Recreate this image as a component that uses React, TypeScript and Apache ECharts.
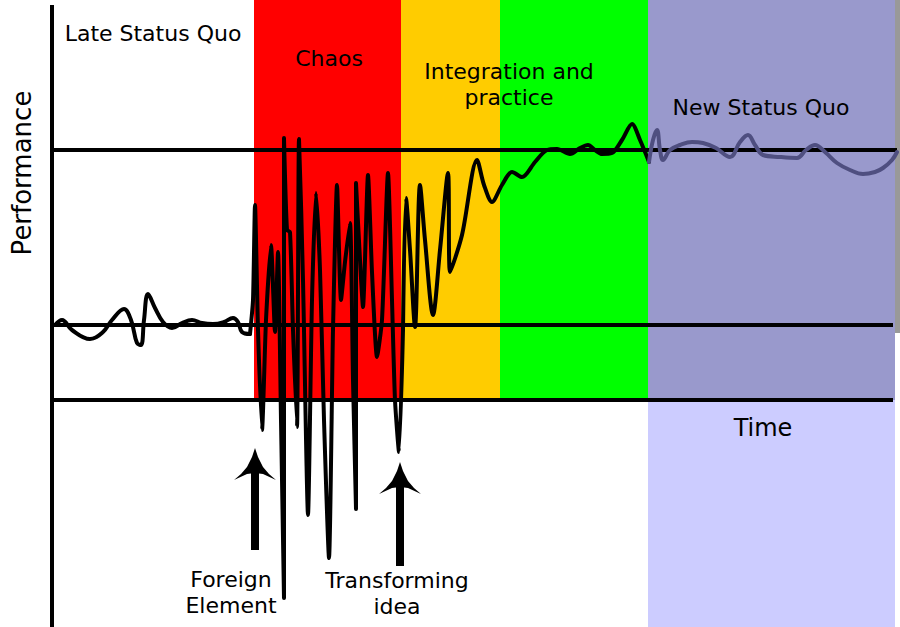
import React, { useEffect, useRef } from "react";
import * as echarts from "echarts";

// Time (x) and performance (y) values
const lateStatusQuo: number[][] = [
  [55, 302], [62, 307], [72, 297], [90, 288], [103, 295], [112, 307], [124, 318],
  [131, 307], [137, 284], [141, 282], [144, 307], [148, 333], [155, 319], [163, 305],
  [172, 299], [182, 304], [192, 307], [202, 304], [213, 303], [224, 305], [233, 309],
  [238, 305], [242, 295], [250, 293],
];

const chaos: number[][] = [
  [250, 293], [253, 327], [255, 422], [258, 297], [262, 197], [266, 307], [271, 382],
  [275, 295], [278, 375], [281, 207], [284, 29], [284, 489], [287, 397], [290, 395],
  [293, 297], [297, 200], [299, 488], [303, 347], [308, 112], [312, 327], [316, 434],
  [320, 357], [324, 207], [329, 69], [333, 297], [337, 442], [341, 327], [345, 365],
  [350, 404], [353, 247], [356, 118], [356, 444], [360, 367], [363, 320], [368, 452],
  [372, 355], [377, 270], [382, 307], [388, 454], [392, 327], [395, 227], [399, 175],
  [403, 297],
];

const integration: number[][] = [
  [403, 297], [406, 429], [410, 377], [415, 300], [420, 442], [425, 387], [433, 312],
  [440, 377], [448, 454], [450, 355], [462, 392], [477, 467], [484, 442], [492, 425],
  [502, 442], [512, 455], [522, 450], [535, 465], [547, 477], [557, 478], [570, 473],
  [580, 479], [588, 482], [595, 477], [602, 473], [612, 474], [622, 487], [632, 503],
  [640, 487], [649, 465],
];

const newStatusQuo: number[][] = [
  [649, 465], [653, 487], [657, 497], [660, 477], [663, 467], [670, 477], [680, 482],
  [692, 485], [703, 484], [716, 479], [730, 470], [740, 485], [748, 492], [755, 482],
  [763, 472], [780, 470], [797, 469], [806, 477], [815, 482], [825, 475], [837, 464],
  [850, 457], [863, 453], [875, 455], [883, 459], [892, 467], [897, 475],
];

// Phase boundaries on the time axis
const phaseNames = ["Chaos", "Integration", "Practice", "New Status Quo"];
const phaseStart = [254, 401, 500, 648];
const phaseEnd = [401, 500, 648, 895];

// Performance levels (new status quo, old status quo, floor)
const levels = [477, 302, 227];
const levelEnds = [897, 893, 893];

const phaseColors = ["#ff0000", "#ffcc00", "#00ff00", "#9999cc"];

export default function App() {
  const ref = useRef<HTMLDivElement>(null);

  useEffect(() => {
    if (!ref.current) return;
    const chart = echarts.init(ref.current, null, { renderer: "svg" });
    const font = "DejaVu Sans";

    const bandData: any[] = phaseNames.map((n, i) => [
      { name: n, xAxis: phaseStart[i], yAxis: levels[2], itemStyle: { color: phaseColors[i] } },
      { xAxis: phaseEnd[i], yAxis: 627 },
    ]);
    bandData.push([
      { name: "Time", xAxis: phaseStart[3], yAxis: 0, itemStyle: { color: "#ccccff" } },
      { xAxis: phaseEnd[3], yAxis: levels[2] },
    ]);
    bandData.push([
      { name: "edge", xAxis: 895, yAxis: 294, itemStyle: { color: "#999999" } },
      { xAxis: 900, yAxis: 627 },
    ]);

    const levelLines: any[] = levels.map((l, i) => [
      { coord: [52, l] },
      { coord: [levelEnds[i], l] },
    ]);
    levelLines.push([{ coord: [52, 0] }, { coord: [52, 622] }]);

    const curveStyle = { color: "#000", width: 4, cap: "round", join: "round" };

    const head = (tx: number, ty: number) => [
      [tx, ty], [tx + 3, ty + 9], [tx + 8, ty + 19], [tx + 14, ty + 26], [tx + 21, ty + 32],
      [tx + 8, ty + 26], [tx, ty + 25], [tx - 8, ty + 26], [tx - 21, ty + 32],
      [tx - 14, ty + 26], [tx - 8, ty + 19], [tx - 3, ty + 9],
    ];

    const txt = (text: string, x: number, y: number, size: number, extra: any = {}) => ({
      type: "text",
      x,
      y,
      z: 20,
      ...extra,
      style: {
        text,
        fontFamily: font,
        fontSize: size,
        fill: "#000",
        align: "center",
        verticalAlign: "middle",
      },
    });

    chart.setOption({
      animation: false,
      grid: { left: 0, top: 0, width: 900, height: 627 },
      xAxis: { type: "value", min: 0, max: 900, show: false },
      yAxis: { type: "value", min: 0, max: 627, show: false },
      series: [
        {
          type: "line",
          data: [],
          z: 1,
          silent: true,
          markArea: { silent: true, data: bandData, label: { show: false } },
        },
        {
          type: "line",
          data: lateStatusQuo,
          smooth: 0.4,
          showSymbol: false,
          lineStyle: curveStyle,
          z: 5,
        },
        {
          type: "line",
          data: chaos,
          smooth: 0.2,
          showSymbol: false,
          lineStyle: curveStyle,
          z: 5,
        },
        {
          type: "line",
          data: integration,
          smooth: 0.3,
          showSymbol: false,
          lineStyle: curveStyle,
          z: 5,
        },
        {
          type: "line",
          data: newStatusQuo,
          smooth: 0.4,
          showSymbol: false,
          lineStyle: { ...curveStyle, color: "#4f4f80" },
          z: 5,
        },
        {
          type: "line",
          data: [],
          z: 6,
          silent: true,
          markLine: {
            silent: true,
            symbol: ["none", "none"],
            label: { show: false },
            lineStyle: { color: "#000", width: 4, type: "solid" },
            emphasis: { disabled: true },
            data: levelLines,
          },
        },
      ],
      graphic: [
        { type: "rect", z: 20, shape: { x: 251, y: 470, width: 8, height: 80 }, style: { fill: "#000" } },
        { type: "polygon", z: 20, shape: { points: head(255, 448) }, style: { fill: "#000" } },
        { type: "rect", z: 20, shape: { x: 396, y: 485, width: 8, height: 81 }, style: { fill: "#000" } },
        { type: "polygon", z: 20, shape: { points: head(400, 462) }, style: { fill: "#000" } },
        txt("Late Status Quo", 153, 33, 22),
        txt("Chaos", 329, 58, 22),
        txt("Integration and", 509, 71, 22),
        txt("practice", 509, 97, 22),
        txt("New Status Quo", 761, 107, 22),
        txt("Time", 763, 428, 24),
        txt("Foreign", 231, 579, 22),
        txt("Element", 231, 605, 22),
        txt("Transforming", 397, 580, 22),
        txt("idea", 397, 606, 22),
        txt("Performance", 22, 173, 26, { rotation: Math.PI / 2 }),
      ],
    });

    return () => chart.dispose();
  }, []);

  return (
    <div
      ref={ref}
      style={{ position: "fixed", left: 0, top: 0, width: 900, height: 627, background: "#fff" }}
    />
  );
}
